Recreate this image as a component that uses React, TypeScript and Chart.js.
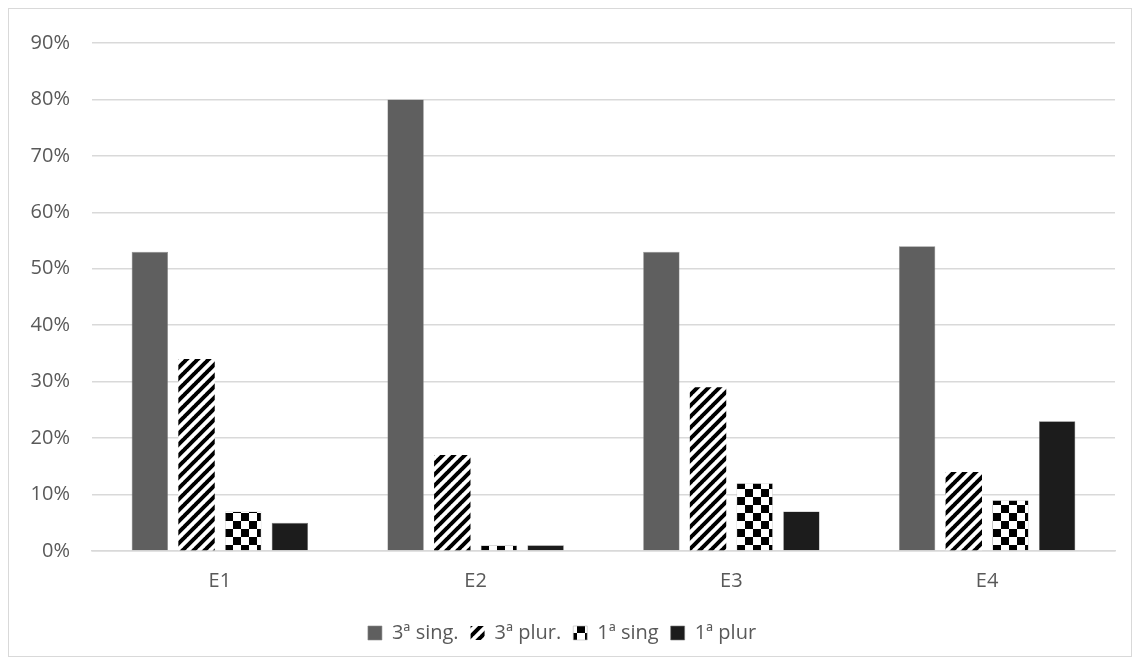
import React, { useEffect, useRef } from "react";
import { Chart, registerables } from "chart.js";

Chart.register(...registerables);

const categories = ["E1", "E2", "E3", "E4"];
const seriesNames = ["3ª sing.", "3ª plur.", "1ª sing", "1ª plur"];
const sing3 = [53, 80, 53, 54];
const plur3 = [34, 17, 29, 14];
const sing1 = [7, 1, 12, 9];
const plur1 = [5, 1, 7, 23];
const yTicks = [0, 10, 20, 30, 40, 50, 60, 70, 80, 90];

function stripePattern(): CanvasPattern | string {
  const s = 11;
  const c = document.createElement("canvas");
  c.width = s;
  c.height = s;
  const g = c.getContext("2d");
  if (!g) return "#000";
  g.fillStyle = "#fff";
  g.fillRect(0, 0, s, s);
  g.strokeStyle = "#000";
  g.lineWidth = 4;
  g.beginPath();
  for (let k = -1; k <= 1; k++) {
    g.moveTo(k * s - 1, s + 1);
    g.lineTo(k * s + s + 1, -1);
  }
  g.stroke();
  const p = g.createPattern(c, "repeat");
  return p || "#000";
}

function checkerPattern(): CanvasPattern | string {
  const s = 8;
  const c = document.createElement("canvas");
  c.width = 2 * s;
  c.height = 2 * s;
  const g = c.getContext("2d");
  if (!g) return "#000";
  g.fillStyle = "#fff";
  g.fillRect(0, 0, 2 * s, 2 * s);
  g.fillStyle = "#000";
  g.fillRect(0, 0, s, s);
  g.fillRect(s, s, s, s);
  const p = g.createPattern(c, "repeat");
  return p || "#000";
}

export default function App() {
  const ref = useRef<HTMLCanvasElement | null>(null);
  useEffect(() => {
    if (!ref.current) return;
    const font = "'Open Sans', 'Liberation Sans', sans-serif";
    const chart = new Chart(ref.current, {
      type: "bar",
      data: {
        labels: categories,
        datasets: [
          { label: seriesNames[0], data: sing3, backgroundColor: "#5f5f5f", borderColor: "#8a8a8a", borderWidth: 0.6 },
          { label: seriesNames[1], data: plur3, backgroundColor: stripePattern() as any, borderWidth: 0 },
          { label: seriesNames[2], data: sing1, backgroundColor: checkerPattern() as any, borderColor: "#bbbbbb", borderWidth: 0.6 },
          { label: seriesNames[3], data: plur1, backgroundColor: "#1c1c1c", borderColor: "#7a7a7a", borderWidth: 0.6 },
        ],
      },
      options: {
        animation: false,
        responsive: false,
        maintainAspectRatio: false,
        datasets: { bar: { categoryPercentage: 0.73, barPercentage: 0.78 } } as any,
        layout: { padding: { left: 0, right: 16, top: 16, bottom: 3 } },
        scales: {
          x: {
            grid: { display: false, drawTicks: false },
            border: { display: true, color: "#d9d9d9", width: 1.5 },
            ticks: { color: "#595959", font: { family: font, size: 20 }, padding: 18 },
          },
          y: {
            min: 0,
            max: 90,
            afterBuildTicks: (s: any) => {
              s.ticks = yTicks.map((v) => ({ value: v }));
            },
            afterFit: (s: any) => {
              s.width = 83;
            },
            grid: { color: "#d9d9d9", lineWidth: 1.5, drawTicks: false },
            border: { display: false },
            ticks: {
              color: "#595959",
              font: { family: font, size: 20 },
              padding: 22,
              callback: (v: any) => v + "%",
            },
          },
        },
        plugins: {
          legend: {
            position: "bottom",
            labels: {
              color: "#595959",
              font: { family: font, size: 20 },
              boxWidth: 14,
              boxHeight: 14,
              padding: 12,
            },
          },
          tooltip: { enabled: false },
        },
      },
    });
    return () => chart.destroy();
  }, []);
  return (
    <div style={{ width: 1122, height: 647, border: "1px solid #d9d9d9", background: "#fff" }}>
      <canvas ref={ref} width={1122} height={647} style={{ display: "block" }} />
    </div>
  );
}
